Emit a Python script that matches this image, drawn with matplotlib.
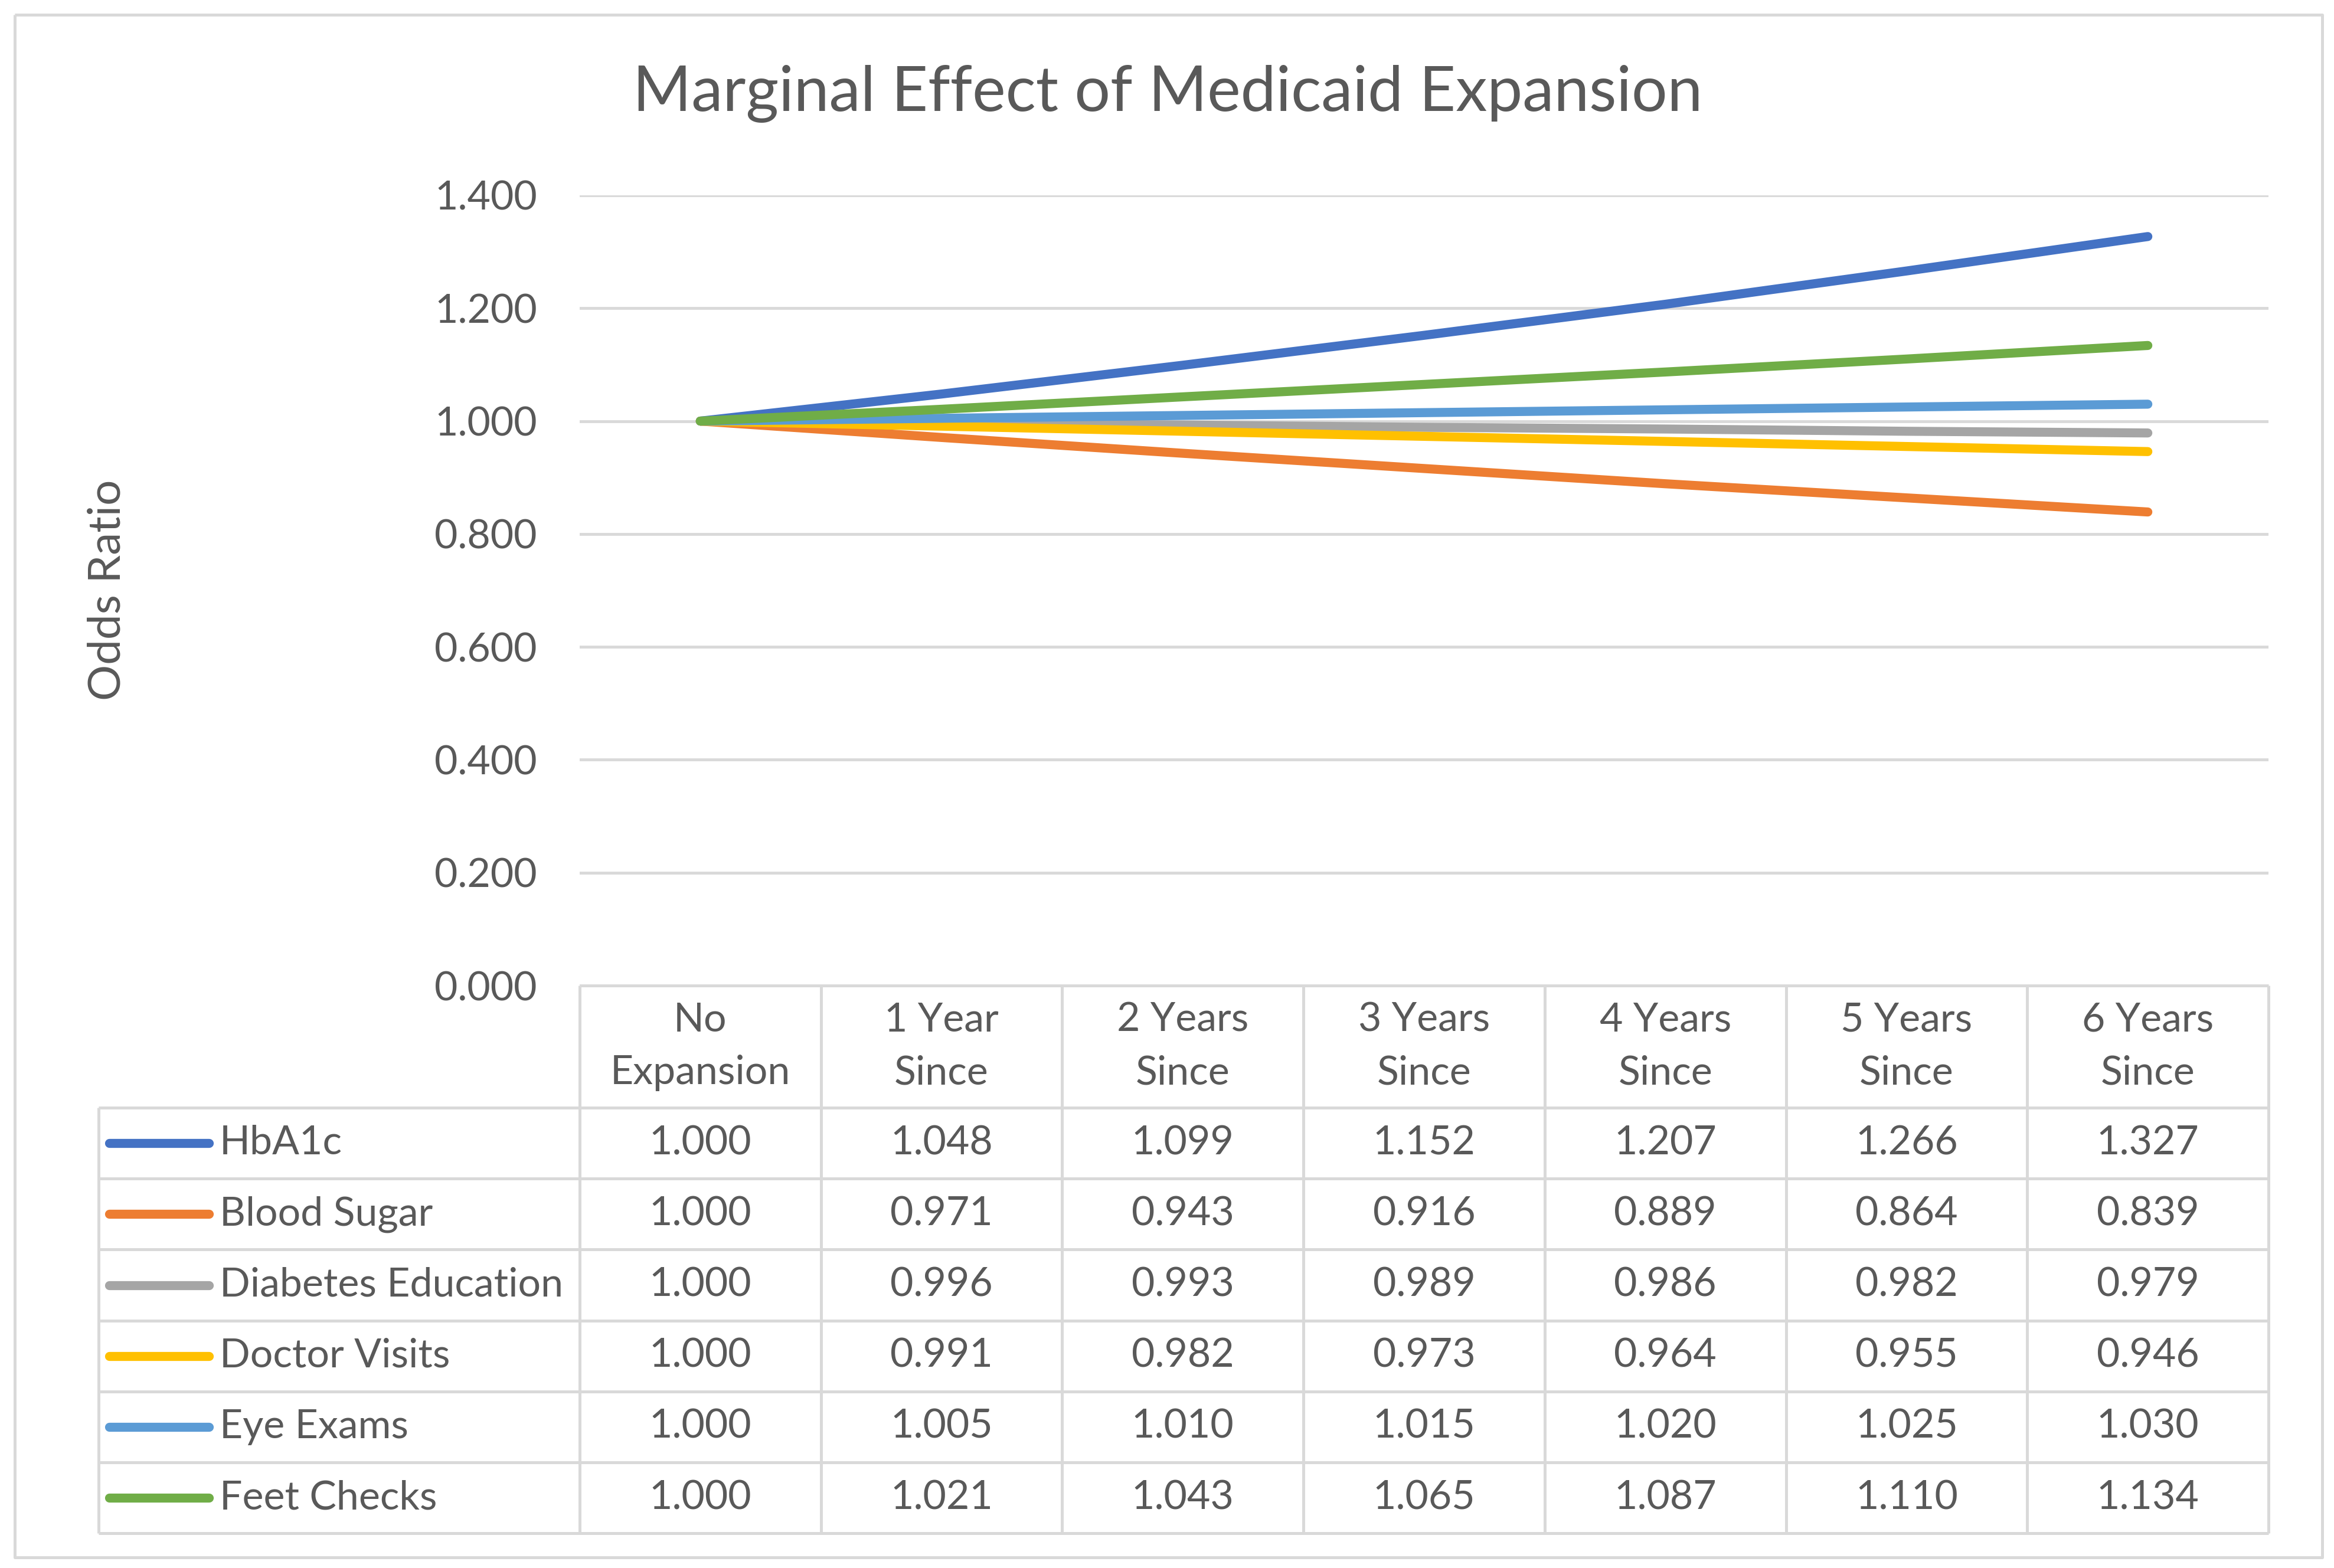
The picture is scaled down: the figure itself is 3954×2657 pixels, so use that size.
import numpy as np
import matplotlib.pyplot as plt
from matplotlib.lines import Line2D

# chart data
categories = ["No\nExpansion", "1 Year\nSince", "2 Years\nSince", "3 Years\nSince",
              "4 Years\nSince", "5 Years\nSince", "6 Years\nSince"]
series_names = ["HbA1c", "Blood Sugar", "Diabetes Education", "Doctor Visits",
                "Eye Exams", "Feet Checks"]
hba1c = [1.000, 1.048, 1.099, 1.152, 1.207, 1.266, 1.327]
blood_sugar = [1.000, 0.971, 0.943, 0.916, 0.889, 0.864, 0.839]
diabetes_ed = [1.000, 0.996, 0.993, 0.989, 0.986, 0.982, 0.979]
doctor_visits = [1.000, 0.991, 0.982, 0.973, 0.964, 0.955, 0.946]
eye_exams = [1.000, 1.005, 1.010, 1.015, 1.020, 1.025, 1.030]
feet_checks = [1.000, 1.021, 1.043, 1.065, 1.087, 1.110, 1.134]
y_ticks = [0.0, 0.2, 0.4, 0.6, 0.8, 1.0, 1.2, 1.4]

series = [hba1c, blood_sugar, diabetes_ed, doctor_visits, eye_exams, feet_checks]
colors = ["#4472C4", "#ED7D31", "#A5A5A5", "#FFC000", "#5B9BD5", "#70AD47"]

plt.rcParams['font.family'] = ['Lato', 'DejaVu Sans']
txt = "#595959"
grid = "#D9D9D9"

W, H = 3955, 2657
fig = plt.figure(figsize=(W / 100, H / 100), dpi=100)

# layout in pixels
left, right = 982, 3843
top, bottom = 331, 1670
leg_left = 167
head_bot = 1877
row_h = 120.2
outer = (25, 25, 3934, 2639)

ax = fig.add_axes([left / W, 1 - bottom / H, (right - left) / W, (bottom - top) / H])
x = np.arange(len(categories))
for vals, c in zip(series, colors):
    ax.plot(x, vals, color=c, lw=11, solid_capstyle='round', zorder=3)
ax.set_xlim(-0.5, len(categories) - 0.5)
ax.set_ylim(0, 1.4)
ax.set_yticks(y_ticks)
ax.set_yticklabels([f"{v:.3f}" for v in y_ticks])
ax.tick_params(axis='y', length=0, pad=52, labelsize=49, labelcolor=txt)
ax.set_xticks([])
for s in ax.spines.values():
    s.set_visible(False)
ax.grid(axis='y', color=grid, lw=3.5)
ax.set_axisbelow(True)

# overlay in pixel coords for the data table and frame
ov = fig.add_axes([0, 0, 1, 1], zorder=-1)
ov.set_xlim(0, W)
ov.set_ylim(H, 0)
ov.axis('off')

gl = dict(color=grid, lw=3.6, solid_capstyle='butt')
x0, y0, x1, y1 = outer
ov.plot([x0, x1, x1, x0, x0], [y0, y0, y1, y1, y0], **gl)

col_w = (right - left) / len(categories)
edges = [left + i * col_w for i in range(len(categories) + 1)]
tab_bot = head_bot + row_h * len(series)
for e in edges:
    ov.plot([e, e], [bottom, tab_bot], **gl)
ov.plot([leg_left, leg_left], [head_bot, tab_bot], **gl)
ov.plot([left, right], [bottom, bottom], **gl)
for r in range(len(series) + 1):
    yy = head_bot + r * row_h
    ov.plot([leg_left, right], [yy, yy], **gl)

# header
for i, cat in enumerate(categories):
    cx = left + (i + 0.5) * col_w
    ov.text(cx, (bottom + head_bot) / 2, cat, ha='center', va='center',
            fontsize=49, color=txt, linespacing=1.55)

# rows
for r, (name, vals, c) in enumerate(zip(series_names, series, colors)):
    cy = head_bot + (r + 0.5) * row_h
    ov.add_line(Line2D([185, 354], [cy, cy], color=c, lw=11, solid_capstyle='round'))
    ov.text(372, cy, name, ha='left', va='center', fontsize=49, color=txt)
    for i, v in enumerate(vals):
        cx = left + (i + 0.5) * col_w
        ov.text(cx, cy, f"{v:.3f}", ha='center', va='center', fontsize=49, color=txt)

fig.text(1978 / W, 1 - 159 / H, "Marginal Effect of Medicaid Expansion", ha='center',
         va='center', fontsize=77, color=txt)
fig.text(182 / W, 1 - 1000 / H, "Odds Ratio", rotation=90, ha='center', va='center',
         fontsize=55, color=txt)

fig.savefig("out.png", dpi=100, facecolor='white')
